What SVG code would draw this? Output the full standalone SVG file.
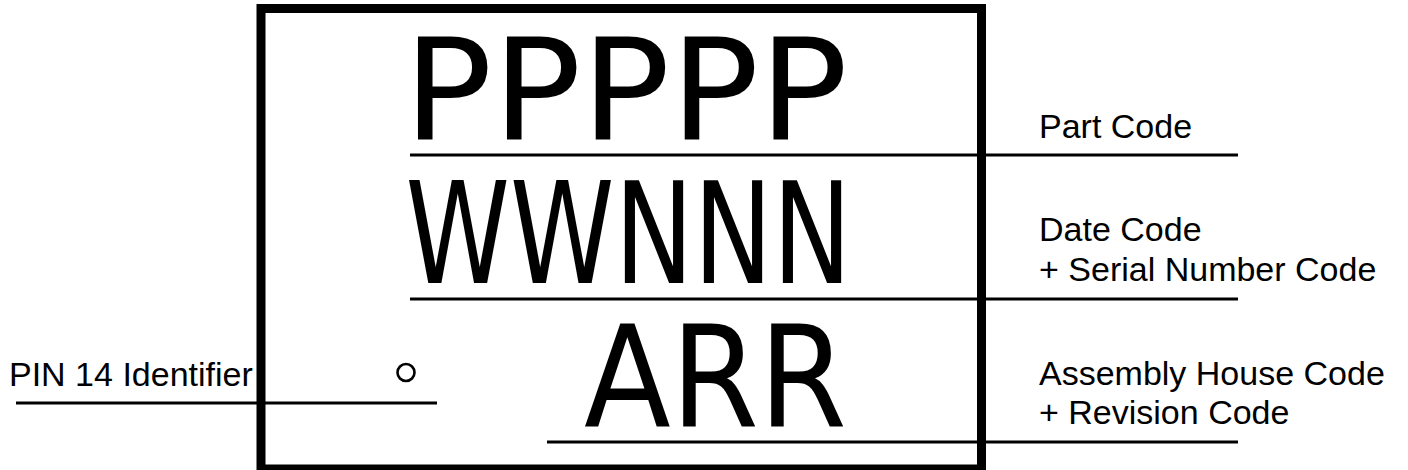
<svg xmlns="http://www.w3.org/2000/svg" width="1408" height="470" viewBox="0 0 1408 470">
  <style>
    .big { font-family: "DejaVu Sans", sans-serif; font-size: 141px; fill: #000; }
    .lbl { font-family: "Liberation Sans", Arial, sans-serif; font-size: 34px; fill: #000; }
    .ln { stroke: #000; stroke-width: 3; fill: none; }
  </style>
  <rect x="0" y="0" width="1408" height="470" fill="#fff"/>
  <g id="chip">
    <rect x="261" y="8.5" width="720.5" height="460.5" fill="none" stroke="#000" stroke-width="9"/>
    <circle cx="406" cy="372.5" r="8.5" fill="none" stroke="#000" stroke-width="2.6"/>
  </g>
  <g id="part-code">
    <text class="big" x="403.5" y="139" textLength="444.5" lengthAdjust="spacingAndGlyphs">PPPPP</text>
    <text class="lbl" x="1039" y="138">Part Code</text>
  </g>
  <g id="date-code">
    <text class="big" x="405.5" y="283" textLength="446" lengthAdjust="spacingAndGlyphs">WWNNN</text>
    <text class="lbl" x="1039" y="241">Date Code</text>
    <text class="lbl" x="1039" y="281">+ Serial Number Code</text>
  </g>
  <g id="assembly-code">
    <text class="big" x="584" y="426" textLength="263" lengthAdjust="spacingAndGlyphs">ARR</text>
    <text class="lbl" x="1039" y="385">Assembly House Code</text>
    <text class="lbl" x="1039" y="424">+ Revision Code</text>
  </g>
  <g id="pin14">
    <text class="lbl" x="9" y="386">PIN 14 Identifier</text>
  </g>
  <g id="connectors">
    <line class="ln" x1="410" y1="155" x2="1238" y2="155"/>
    <line class="ln" x1="410" y1="299" x2="1238" y2="299"/>
    <line class="ln" x1="547" y1="442" x2="1238" y2="442"/>
    <line class="ln" x1="16" y1="403" x2="437" y2="403"/>
  </g>
</svg>
